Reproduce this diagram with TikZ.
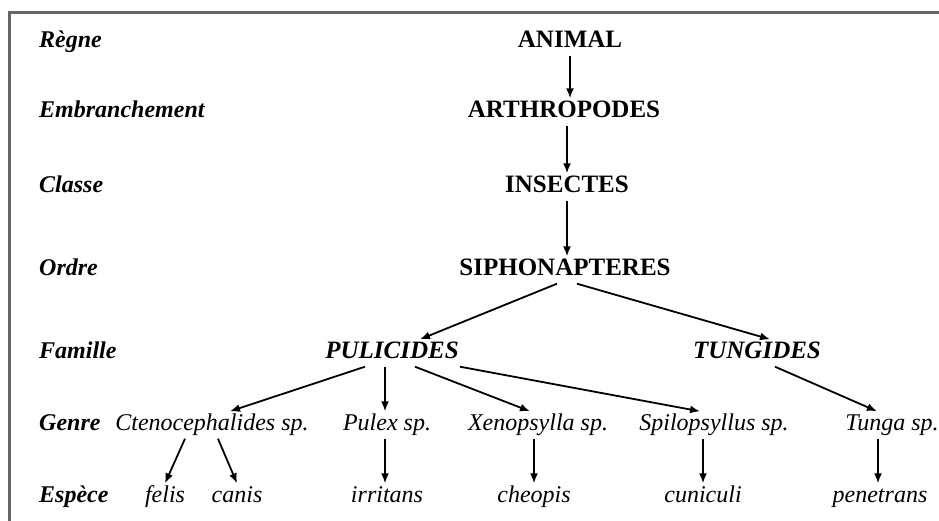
\documentclass[tikz,border=0pt]{standalone}
\usepackage{fontspec}
\setmainfont{Liberation Serif}
\usetikzlibrary{arrows.meta}

\begin{document}
\begin{tikzpicture}[x=1pt, y=-1pt, node distance=72pt,
    >={Latex[length=10pt, width=8pt]},
    every node/.style={inner sep=3pt, text height=16pt, text depth=5pt},
    rang/.style={anchor=west, font=\fontsize{24}{28}\selectfont\bfseries\itshape},
    taxon/.style={font=\fontsize{25}{28}\selectfont\bfseries},
    famille/.style={font=\fontsize{25}{28}\selectfont\bfseries\itshape},
    espece/.style={font=\fontsize{24}{28}\selectfont\itshape},
    fleche/.style={->, line width=1.8pt}]
    \useasboundingbox (0,0) rectangle (939,520);
    \draw[line width=3pt, black!60] (9,530) -- (9,12) -- (950,12);
    % rangs
    \node[rang] (regne) at (36,42) {Règne};
    \node[rang] (embr) at (36,112) {Embranchement};
    \node[rang] (classe) at (36,187) {Classe};
    \node[rang] (ordre) at (36,270) {Ordre};
    \node[rang] (fam) at (36,353) {Famille};
    \node[rang] (genre) at (36,425) {Genre};
    \node[rang] (esp) at (36,497) {Espèce};
    % taxons
    \node[taxon] (anim) at (570,42) {ANIMAL};
    \node[taxon] (arth) at (564,112) {ARTHROPODES};
    \node[taxon] (ins) at (567,187) {INSECTES};
    \node[taxon] (siph) at (565,270) {SIPHONAPTERES};
    \node[famille] (pul) at (392,353) {PULICIDES};
    \node[famille] (tun) at (757,353) {TUNGIDES};
    \node[espece] (cte) at (212,425) {Ctenocephalides sp.};
    \node[espece] (pux) at (387,425) {Pulex sp.};
    \node[espece] (xen) at (538,425) {Xenopsylla sp.};
    \node[espece] (spi) at (714,425) {Spilopsyllus sp.};
    \node[espece] (tga) at (892,425) {Tunga sp.};
    \node[espece, below of=cte, xshift=-47pt] (fel) {felis};
    \node[espece, below of=cte, xshift=25pt] (can) {canis};
    \node[espece, below of=pux] (irr) {irritans};
    \node[espece, below of=xen, xshift=-4pt] (che) {cheopis};
    \node[espece, below of=spi, xshift=-11pt] (cun) {cuniculi};
    \node[espece, below of=tga, xshift=-12pt] (pen) {penetrans};
    % fleches
    \draw[fleche] (anim.south) -- (anim.south |- arth.north);
    \draw[fleche] ([xshift=3pt]arth.south) -- ([xshift=3pt]arth.south |- ins.north);
    \draw[fleche] (ins.south) -- (ins.south |- siph.north);
    \draw[fleche] ([xshift=-8pt]siph.south) -- ([xshift=28pt]pul.north);
    \draw[fleche] ([xshift=12pt]siph.south) -- ([xshift=13pt]tun.north);
    \draw[fleche] ([xshift=-27pt]pul.south) -- ([xshift=18pt]cte.north);
    \draw[fleche] ([xshift=-7pt]pul.south) -- ([xshift=-7pt]pul.south |- pux.north);
    \draw[fleche] ([xshift=23pt]pul.south) -- ([xshift=-8pt]xen.north);
    \draw[fleche] ([xshift=68pt]pul.south) -- ([xshift=-14pt]spi.north);
    \draw[fleche] ([xshift=18pt]tun.south) -- ([xshift=-15pt]tga.north);
    \draw[fleche] ([xshift=-27pt]cte.south) -- (fel.north);
    \draw[fleche] ([xshift=6pt]cte.south) -- (can.north);
    \draw[fleche] ([xshift=-2pt]pux.south) -- ([xshift=-2pt]pux.south |- irr.north);
    \draw[fleche] ([xshift=-4pt]xen.south) -- ([xshift=-4pt]xen.south |- che.north);
    \draw[fleche] ([xshift=-11pt]spi.south) -- ([xshift=-11pt]spi.south |- cun.north);
    \draw[fleche] ([xshift=-14pt]tga.south) -- ([xshift=-14pt]tga.south |- pen.north);
\end{tikzpicture}
\end{document}
